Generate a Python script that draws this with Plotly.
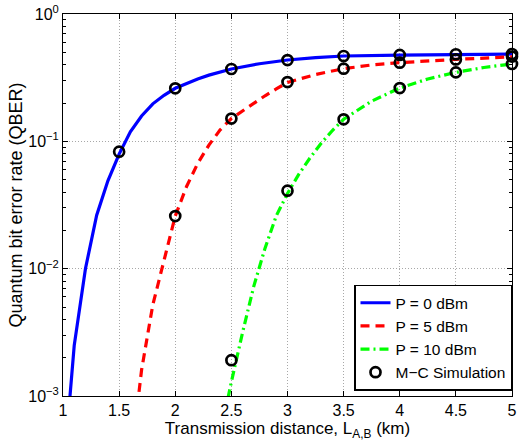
import plotly.graph_objects as go

# ---- data ----
x_p0 = [1.0, 1.1, 1.2, 1.3, 1.4, 1.5, 1.6, 1.7, 1.8, 1.9, 2.0, 2.1, 2.2, 2.3, 2.4, 2.5,
        2.75, 3.0, 3.25, 3.5, 4.0, 4.5, 5.0]
y_p0 = [2.2e-4, 2.5e-3, 1.0e-2, 0.0263, 0.049, 0.0794, 0.119, 0.158, 0.197, 0.230, 0.261,
        0.285, 0.309, 0.331, 0.351, 0.370, 0.407, 0.435, 0.455, 0.468, 0.476, 0.482, 0.485]

x_p5 = [1.6, 1.7, 1.8, 1.9, 2.0, 2.1, 2.2, 2.3, 2.4, 2.5, 2.6, 2.7, 2.8, 2.9, 3.0,
        3.25, 3.5, 3.75, 4.0, 4.5, 5.0]
y_p5 = [2.8e-4, 1.6e-3, 5.2e-3, 0.0117, 0.0259, 0.044, 0.067, 0.0935, 0.123, 0.151,
        0.174, 0.200, 0.228, 0.258, 0.290, 0.335, 0.372, 0.398, 0.415, 0.440, 0.461]

x_p10 = [2.4, 2.5, 2.6, 2.7, 2.8, 2.9, 3.0, 3.1, 3.2, 3.3, 3.4, 3.5, 3.75, 4.0, 4.25,
         4.5, 4.75, 5.0]
y_p10 = [4.9e-4, 1.29e-3, 3.16e-3, 7.3e-3, 0.0145, 0.026, 0.039, 0.055, 0.074, 0.0966,
         0.1216, 0.149, 0.207, 0.262, 0.309, 0.348, 0.380, 0.405]

sim_x = [1.5, 2.0, 2.5, 3.0, 3.5, 4.0, 4.5, 5.0]
sim_p0 = [0.083, 0.261, 0.370, 0.435, 0.468, 0.477, 0.483, 0.485]
sim_p5 = [None, 0.0259, 0.151, 0.292, 0.372, 0.415, 0.440, 0.463]
sim_p10 = [None, None, 0.00191, 0.041, 0.149, 0.262, 0.348, 0.405]

x_ticks = [1, 1.5, 2, 2.5, 3, 3.5, 4, 4.5, 5]
x_ticktext = ["1", "1.5", "2", "2.5", "3", "3.5", "4", "4.5", "5"]
y_ticks = [1e-3, 1e-2, 1e-1, 1]
y_ticktext = ["10<sup>\u22123</sup>", "10<sup>\u22122</sup>", "10<sup>\u22121</sup>", "10<sup>0</sup>"]

FONT = "Liberation Sans, Arial, Helvetica, sans-serif"

fig = go.Figure()
fig.add_trace(go.Scatter(x=x_p0, y=y_p0, mode="lines", name="P = 0 dBm",
                         line=dict(color="#0000ff", width=3.2)))
fig.add_trace(go.Scatter(x=x_p5, y=y_p5, mode="lines", name="P = 5 dBm",
                         line=dict(color="#ff0000", width=3.2, dash="9px,6px")))
fig.add_trace(go.Scatter(x=x_p10, y=y_p10, mode="lines", name="P = 10 dBm",
                         line=dict(color="#00ff00", width=3.2, dash="9px,4px,2px,4px")))

mk = dict(symbol="circle-open", size=10, color="black", line=dict(width=2.7, color="black"))
fig.add_trace(go.Scatter(x=sim_x, y=sim_p0, mode="markers", name="M\u2212C Simulation",
                         marker=mk, legendgroup="sim", showlegend=True, cliponaxis=False))
fig.add_trace(go.Scatter(x=sim_x, y=sim_p5, mode="markers", name="M\u2212C Simulation",
                         marker=mk, legendgroup="sim", showlegend=False, cliponaxis=False))
fig.add_trace(go.Scatter(x=sim_x, y=sim_p10, mode="markers", name="M\u2212C Simulation",
                         marker=mk, legendgroup="sim", showlegend=False, cliponaxis=False))

fig.update_layout(
    width=520, height=445,
    margin=dict(l=63, r=3, t=14, b=49),
    paper_bgcolor="white", plot_bgcolor="white",
    font=dict(family=FONT, size=16, color="black"),
    showlegend=True,
    legend=dict(x=1, y=0.014, xanchor="right", yanchor="bottom",
                bgcolor="white", bordercolor="black", borderwidth=1.5,
                font=dict(size=15.5), tracegroupgap=0, itemwidth=30),
)
fig.update_xaxes(
    range=[1, 5], tickvals=x_ticks, ticktext=x_ticktext,
    showline=True, linecolor="black", linewidth=1, mirror="allticks",
    ticks="inside", ticklen=5, tickcolor="black",
    showgrid=True, gridcolor="#a8a8a8", griddash="1px,2px", gridwidth=1,
    zeroline=False, ticklabeloverflow="allow",
    title=dict(text="Transmission distance, L<sub>A,B</sub> (km)", standoff=1,
               font=dict(size=17)),
    tickfont=dict(size=16),
)
fig.update_yaxes(
    type="log", range=[-3, 0], tickvals=y_ticks, ticktext=y_ticktext,
    showline=True, linecolor="black", linewidth=1, mirror="allticks",
    ticks="inside", ticklen=5, tickcolor="black",
    minor=dict(ticks="inside", ticklen=3, tickcolor="black", showgrid=False,
               tickvals=[m * 10 ** e for e in (-3, -2, -1) for m in range(2, 10)]),
    showgrid=True, gridcolor="#a8a8a8", griddash="1px,2px", gridwidth=1,
    zeroline=False, ticklabeloverflow="allow",
    title=dict(text="Quantum bit error rate (QBER)", standoff=0, font=dict(size=18)),
    tickfont=dict(size=16),
)

fig.write_html("out.html")
